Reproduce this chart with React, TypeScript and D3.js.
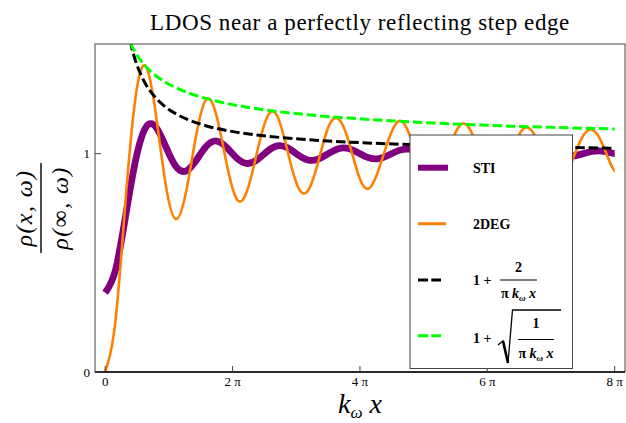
import React from "react";
import * as d3 from "d3";

// sample positions k_w x (step 0.5) and values
const kx = [
  0, 0.5, 1, 1.5, 2, 2.5, 3, 3.5, 4, 4.5, 5, 5.5, 6, 6.5, 7, 7.5, 8, 8.5, 9,
  9.5, 10, 10.5, 11, 11.5, 12, 12.5, 13, 13.5, 14, 14.5, 15, 15.5, 16, 16.5,
  17, 17.5, 18, 18.5, 19, 19.5, 20, 20.5, 21, 21.5, 22, 22.5, 23, 23.5, 24,
  24.5, 25, 25.5,
];

const sti = [
  0.363, 0.464, 0.711, 0.97, 1.12, 1.122, 1.03, 0.94, 0.921, 0.971, 1.035,
  1.058, 1.028, 0.979, 0.955, 0.972, 1.011, 1.036, 1.027, 0.995, 0.971, 0.975,
  1.0, 1.023, 1.024, 1.003, 0.981, 0.977, 0.994, 1.015, 1.021, 1.008, 0.989,
  0.981, 0.99, 1.008, 1.018, 1.011, 0.995, 0.984, 0.988, 1.002, 1.014, 1.012,
  1.0, 0.988, 0.988, 0.998, 1.01, 1.012, 1.003, 0.992,
];

const deg = [
  0, 0.23, 0.78, 1.26, 1.4, 1.18, 0.85, 0.7, 0.83, 1.09, 1.25, 1.17, 0.95,
  0.79, 0.83, 1.01, 1.17, 1.17, 1.01, 0.85, 0.83, 0.96, 1.12, 1.16, 1.06, 0.9,
  0.84, 0.93, 1.07, 1.15, 1.09, 0.95, 0.86, 0.9, 1.03, 1.13, 1.11, 0.99, 0.89,
  0.89, 0.99, 1.1, 1.11, 1.02, 0.91, 0.88, 0.96, 1.07, 1.11, 1.05, 0.94, 0.89,
];

// envelope curves
const envKx = [
  1.0, 1.25, 1.5, 1.75, 2, 2.5, 3, 3.5, 4, 5, 6, 7, 8, 10, 12, 14, 17, 20, 23,
  25.13,
];
const envBlack = [
  1.637, 1.509, 1.424, 1.364, 1.318, 1.255, 1.212, 1.182, 1.159, 1.127, 1.106,
  1.091, 1.08, 1.064, 1.053, 1.045, 1.037, 1.032, 1.028, 1.025,
];
const envGreen = [
  1.564, 1.505, 1.461, 1.427, 1.399, 1.357, 1.326, 1.302, 1.282, 1.252, 1.23,
  1.213, 1.199, 1.178, 1.163, 1.151, 1.137, 1.126, 1.118, 1.113,
];

const xTicks = [0, 2, 4, 6, 8]; // multiples of pi
const yTicks = [0, 1];

const serif = "Liberation Serif";

const App: React.FC = () => {
  const left = 95;
  const right = 625;
  const top = 44;
  const bottom = 372;

  const x = d3.scaleLinear().domain([-0.503, 25.64]).range([left, right]);
  const y = d3.scaleLinear().domain([0, 1.5]).range([bottom, top + 0.5]);

  const smooth = d3
    .line<[number, number]>()
    .curve(d3.curveNatural)
    .x(d => x(d[0]))
    .y(d => y(d[1]));

  const envLine = d3
    .line<[number, number]>()
    .curve(d3.curveMonotoneX)
    .x(d => x(d[0]))
    .y(d => y(d[1]));

  const stiPath = smooth(kx.map((k, i) => [k, sti[i]]) as [number, number][]);
  const degPath = smooth(kx.map((k, i) => [k, deg[i]]) as [number, number][]);
  const blackPath = envLine(envKx.map((k, i) => [k, envBlack[i]]) as [number, number][]);
  const greenPath = envLine(envKx.map((k, i) => [k, envGreen[i]]) as [number, number][]);

  const frameColor = "#444";
  const dash = "9.5,3.8";
  const xEnd = x(8 * Math.PI);

  return (
    <svg
      width={626}
      height={423}
      viewBox="0 0 626 423"
      style={{ position: "absolute", left: 0, top: 0, background: "#fff" }}
    >
      <defs>
        <clipPath id="plot-clip">
          <rect x={left} y={top} width={right - left} height={bottom - top} />
        </clipPath>
        <clipPath id="data-clip">
          <rect x={left} y={top} width={xEnd - left} height={bottom - top} />
        </clipPath>
      </defs>

      <text
        x={360}
        y={29.5}
        textAnchor="middle"
        fontFamily={serif}
        fontSize={23}
        letterSpacing={0.6}
      >
        LDOS near a perfectly reflecting step edge
      </text>

      {/* curves */}
      <g clipPath="url(#data-clip)" fill="none">
        <path d={stiPath ?? ""} stroke="#800080" strokeWidth={6.8} />
        <path d={degPath ?? ""} stroke="#ff8000" strokeWidth={2.6} />
      </g>
      <g clipPath="url(#plot-clip)" fill="none">
        <path d={blackPath ?? ""} stroke="#000" strokeWidth={3} strokeDasharray={dash} />
        <path d={greenPath ?? ""} stroke="#00ff00" strokeWidth={3} strokeDasharray={dash} />
      </g>

      {/* frame */}
      <rect
        x={left}
        y={top}
        width={right - left}
        height={bottom - top}
        fill="none"
        stroke={frameColor}
        strokeWidth={1}
      />
      <line x1={left} x2={right} y1={y(0)} y2={y(0)} stroke="#000" strokeWidth={1.4} />

      {/* x ticks */}
      {xTicks.map(t => (
        <g key={"xt" + t}>
          <line
            x1={x(t * Math.PI)}
            x2={x(t * Math.PI)}
            y1={bottom}
            y2={bottom - 6}
            stroke={frameColor}
            strokeWidth={1}
          />
          <text
            x={x(t * Math.PI)}
            y={386}
            textAnchor="middle"
            fontFamily={serif}
            fontSize={13}
          >
            {t === 0 ? "0" : `${t} \u03c0`}
          </text>
        </g>
      ))}

      {/* y ticks */}
      {yTicks.map(t => (
        <g key={"yt" + t}>
          <line x1={left} x2={left + 6} y1={y(t)} y2={y(t)} stroke={frameColor} strokeWidth={1} />
          <text
            x={90}
            y={y(t) + 4.5}
            textAnchor="end"
            fontFamily={serif}
            fontSize={13}
          >
            {t}
          </text>
        </g>
      ))}

      {/* x label */}
      <text x={360} y={413} textAnchor="middle" fontFamily={serif} fontStyle="italic" fontSize={28}>
        <tspan>k</tspan>
        <tspan fontSize={17} dy={5}>ω</tspan>
        <tspan dy={-5}> x</tspan>
      </text>

      {/* y label */}
      <g
        transform="translate(41, 208) rotate(-90)"
        fontFamily={serif}
        fontSize={24}
        letterSpacing={1.4}
      >
        <text x={0} y={-9} textAnchor="middle" fontStyle="italic">
          ρ(x, ω)
        </text>
        <line x1={-45} x2={45} y1={0} y2={0} stroke="#000" strokeWidth={1.4} />
        <text x={0} y={27} textAnchor="middle" fontStyle="italic">
          ρ(<tspan fontStyle="normal">∞</tspan>, ω)
        </text>
      </g>

      {/* legend */}
      <g fontFamily={serif} fontSize={14} fontWeight="bold">
        <rect x={410} y={135} width={162.5} height={233.5} fill="#fff" stroke={frameColor} strokeWidth={1} />

        <line x1={418} x2={448} y1={167.7} y2={167.7} stroke="#800080" strokeWidth={6} />
        <text x={473} y={172.5}>STI</text>

        <line x1={418} x2={446} y1={223.7} y2={223.7} stroke="#ff8000" strokeWidth={3} />
        <text x={473} y={228.5}>2DEG</text>

        <line x1={418} x2={441} y1={280} y2={280} stroke="#000" strokeWidth={3} strokeDasharray="10,3.3" />
        <text x={473} y={284.5}>1 +</text>
        <text x={518.5} y={272} textAnchor="middle">2</text>
        <line x1={500} x2={537} y1={280} y2={280} stroke="#000" strokeWidth={1.2} />
        <text x={518.5} y={298} textAnchor="middle">
          π <tspan fontStyle="italic">k</tspan>
          <tspan fontSize={9} dy={3} fontStyle="italic">ω</tspan>
          <tspan dy={-3} fontStyle="italic"> x</tspan>
        </text>

        <line x1={418} x2={441} y1={335.7} y2={335.7} stroke="#00ff00" strokeWidth={3} strokeDasharray="10,3.3" />
        <text x={473} y={343}>1 +</text>
        <path d="M498,345 L503,341 L508,363 L512.5,310 L561,310" fill="none" stroke="#000" strokeWidth={1.3} />
        <path d="M503,341 L508,363" fill="none" stroke="#000" strokeWidth={2.6} />
        <text x={536} y={328} textAnchor="middle">1</text>
        <line x1={518} x2={554} y1={339.5} y2={339.5} stroke="#000" strokeWidth={1.2} />
        <text x={536} y={358} textAnchor="middle">
          π <tspan fontStyle="italic">k</tspan>
          <tspan fontSize={9} dy={3} fontStyle="italic">ω</tspan>
          <tspan dy={-3} fontStyle="italic"> x</tspan>
        </text>
      </g>
    </svg>
  );
};

export default App;
